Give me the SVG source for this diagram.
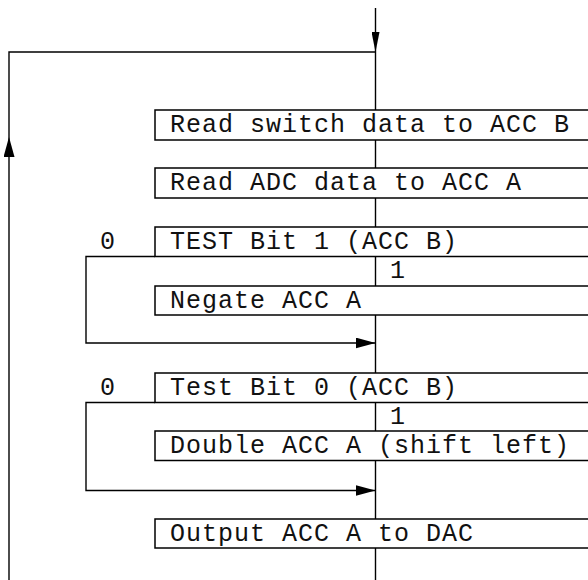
<svg xmlns="http://www.w3.org/2000/svg" width="588" height="580" viewBox="0 0 588 580">
<style>
.ln{fill:none;stroke:#000;stroke-width:1.4}
.box{fill:#fff;stroke:#000;stroke-width:1.5}
.t{font-family:"Liberation Mono","DejaVu Sans Mono",monospace;font-size:25px;letter-spacing:1px;fill:#111}
</style>
<defs>
<marker id="ah" viewBox="0 0 20 11" refX="20" refY="5.5" markerWidth="20" markerHeight="11" markerUnits="userSpaceOnUse" orient="auto">
<path d="M0,0 L20,5.5 L0,11 Z" fill="#000"/>
</marker>
<marker id="ahn" viewBox="0 0 20 8" refX="20" refY="4" markerWidth="20" markerHeight="8" markerUnits="userSpaceOnUse" orient="auto">
<path d="M0,0 L20,4 L0,8 Z" fill="#000"/>
</marker>
</defs>
<g id="connectors">
<path class="ln" d="M375.5,8 V52" marker-end="url(#ahn)"/>
<path class="ln" d="M375.5,52 V580"/>
<path class="ln" d="M9,580 V137" marker-end="url(#ah)"/>
<path class="ln" d="M9,137 V52 H375.5"/>
<path class="ln" d="M155,256.5 H86 V343 H375.5" marker-end="url(#ah)"/>
<path class="ln" d="M155,402.5 H86 V490.5 H375.5" marker-end="url(#ah)"/>
</g>
<g id="n1"><rect class="box" x="155" y="110" width="450" height="30"/><text class="t" x="170" y="132">Read switch data to ACC B</text></g>
<g id="n2"><rect class="box" x="155" y="168" width="450" height="30"/><text class="t" x="170" y="190">Read ADC data to ACC A</text></g>
<g id="n3"><rect class="box" x="155" y="227" width="450" height="29.5"/><text class="t" x="170" y="249">TEST Bit 1 (ACC B)</text></g>
<g id="n4"><rect class="box" x="155" y="286" width="450" height="29"/><text class="t" x="170" y="307.5">Negate ACC A</text></g>
<g id="n5"><rect class="box" x="155" y="373" width="450" height="29.5"/><text class="t" x="170" y="395">Test Bit 0 (ACC B)</text></g>
<g id="n6"><rect class="box" x="155" y="431" width="450" height="29.5"/><text class="t" x="170" y="453">Double ACC A (shift left)</text></g>
<g id="n7"><rect class="box" x="155" y="519" width="450" height="29"/><text class="t" x="170" y="541">Output ACC A to DAC</text></g>
<g id="labels">
<text class="t" x="108" y="249" text-anchor="middle">0</text>
<text class="t" x="398" y="277.5" text-anchor="middle">1</text>
<text class="t" x="108" y="395" text-anchor="middle">0</text>
<text class="t" x="398" y="424" text-anchor="middle">1</text>
</g>
</svg>
